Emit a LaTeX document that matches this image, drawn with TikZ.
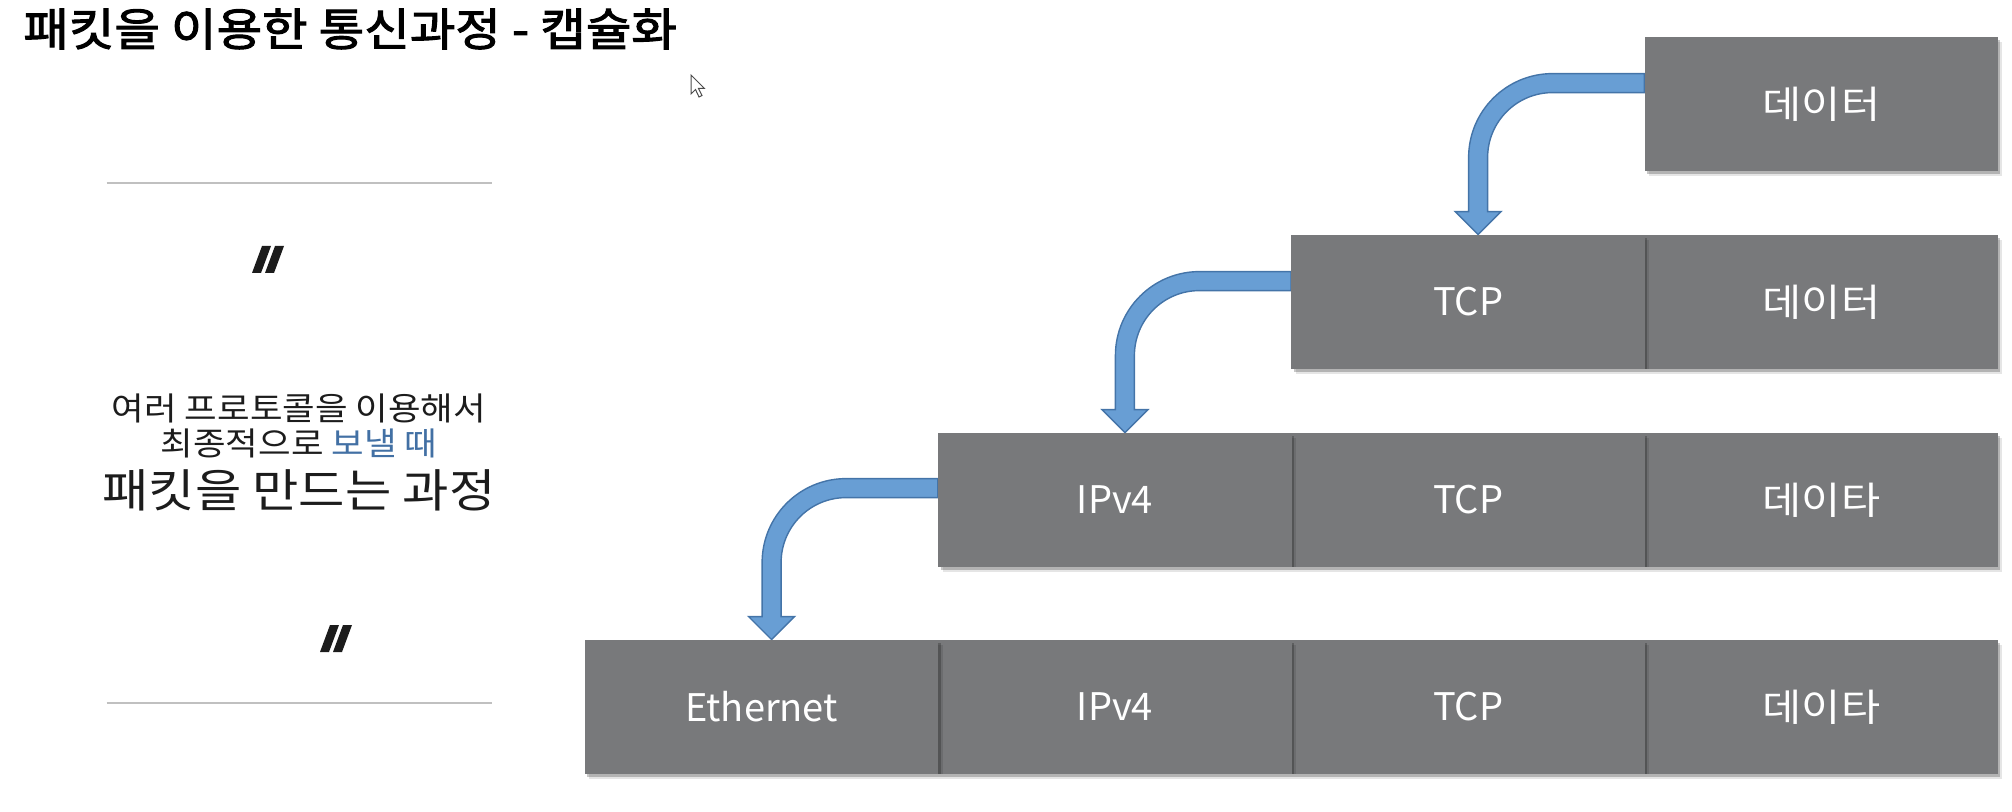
\documentclass[tikz,border=0pt]{standalone}
\usepackage{fontspec}
\setmainfont{Noto Sans CJK KR}
\newfontfamily\titlefont[FakeStretch=1.1,FakeBold=2.3]{Noto Sans CJK KR}
\newfontfamily\widefont[FakeStretch=1.1]{Noto Sans CJK KR}
\newfontfamily\labelkr[FakeStretch=1.12]{Noto Sans CJK KR}
\usetikzlibrary{calc,shadows,backgrounds}
\definecolor{boxgray}{RGB}{120,121,123}
\definecolor{arrowfill}{RGB}{104,158,212}
\definecolor{arrowline}{RGB}{68,116,168}
\definecolor{accentblue}{RGB}{66,112,164}
\definecolor{rulegray}{RGB}{192,192,192}
\definecolor{textdark}{RGB}{28,28,28}
\tikzset{
  cell/.style={minimum width=176.62pt, minimum height=67pt, inner sep=0pt,
    fill=boxgray, text=white, font=\fontsize{19}{19}\selectfont,
    drop shadow={shadow xshift=2.2pt, shadow yshift=-2.6pt, opacity=0.10, fill=black},
    drop shadow={shadow xshift=1.2pt, shadow yshift=-1.5pt, opacity=0.22, fill=black}},
  krcell/.style={cell, font=\labelkr\fontsize{19}{19}\selectfont},
  arrowstyle/.style={fill=arrowfill, draw=arrowline, line width=0.7pt, line join=miter},
  leftrule/.style={draw=rulegray, line width=1pt},
  quotemark/.style={fill=textdark},
  lefttext/.style={inner sep=0pt, text=textdark}
}
% #1 source node, #2 target node, #3 band offset below source top
\newcommand\bentarrow[3]{%
  \coordinate (bs) at ($(#1.north west)+(0,#3)$);
  \coordinate (bt) at ($(#2.north)+(10,0)$);
  \filldraw[arrowstyle] (bs) -- ($(bt |- bs)+(74.5,0)$)
    arc[start angle=270,end angle=180,radius=84]
    -- ($(bt)+(-9.5,-23)$) -- ($(bt)+(-23,-23)$) -- (bt) -- ($(bt)+(23,-23)$)
    -- ($(bt)+(9.5,-23)$) -- ($(bt |- bs)+(9.5,84)$)
    arc[start angle=180,end angle=270,radius=65]
    -- ($(bs)+(0,19)$) -- cycle;}
\newcommand\quotepair{%
  \fill[quotemark] (0,27) -- (9,27) -- (19,0) -- (10,0) -- cycle;
  \fill[quotemark] (13,27) -- (22,27) -- (32,0) -- (23,0) -- cycle;}
\begin{document}
\begin{tikzpicture}[x=0.5pt,y=-0.5pt]
\useasboundingbox (0,0) rectangle (2012,812);

% title
\node[anchor=west, inner sep=0pt, font=\titlefont\fontsize{22.5}{22.5}\selectfont, text=black]
  (title) at (23,29) {패킷을 이용한 통신과정 - 캡슐화};
% mouse pointer
\filldraw[fill=white, draw=black!70, line width=0.5pt] (691,75) -- (691,94) -- (695.5,89.5)
  -- (699,97) -- (702,95.5) -- (698.5,88.5) -- (704.5,88.5) -- cycle;

% left panel
\draw[leftrule] (106.5,183.5) -- (491.5,183.5);
\draw[leftrule] (106.5,703) -- (491.5,703);
\begin{scope}[shift={(252,246)}] \quotepair \end{scope}
\begin{scope}[shift={(320,625)}] \quotepair \end{scope}
\node[lefttext, font=\widefont\fontsize{16.1}{16.1}\selectfont] (l1) at (299,408) {여러 프로토콜을 이용해서};
\node[lefttext, font=\widefont\fontsize{16.1}{16.1}\selectfont] (l2) at (299,443) {최종적으로 \textcolor{accentblue}{보낼 때}};
\node[lefttext, font=\widefont\fontsize{22.9}{22.9}\selectfont] (l3) at (299,490) {패킷을 만드는 과정};

% row 1
\node[krcell] (d1) at (1821.4,104) {데이터};
% row 2
\node[krcell] (d2) at (1821.4,302) {데이터};
\node[cell] (t2) at (1468.1,302) {TCP};
% row 3
\node[krcell] (d3) at (1821.4,500) {데이타};
\node[cell] (t3) at (1468.1,500) {TCP};
\node[cell] (i3) at (1114.9,500) {IPv4};
% row 4
\node[krcell] (d4) at (1821.4,707) {데이타};
\node[cell] (t4) at (1468.1,707) {TCP};
\node[cell] (i4) at (1114.9,707) {IPv4};
\node[cell] (e4) at (761.6,707) {Ethernet};

% arrows (behind the boxes)
\begin{pgfonlayer}{background}
  \bentarrow{d1}{t2}{37}
  \bentarrow{t2}{i3}{37}
  \bentarrow{i3}{e4}{46}
\end{pgfonlayer}
\end{tikzpicture}
\end{document}
